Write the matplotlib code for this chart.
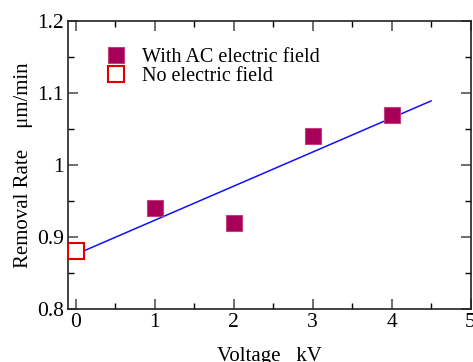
import matplotlib
matplotlib.use("Agg")
import matplotlib.pyplot as plt
from matplotlib.ticker import MultipleLocator, FixedLocator

plt.rcParams['font.family'] = ['Liberation Serif', 'DejaVu Serif']

ac_voltage = [1, 2, 3, 4]
ac_rate = [0.94, 0.92, 1.04, 1.07]
no_voltage = [0]
no_rate = [0.88]
fit_x = [0, 4.5]
fit_y = [0.876, 1.089]

fig = plt.figure(figsize=(4.73, 3.62), dpi=100)
ax = fig.add_axes([0.1438, 0.1464, 0.851, 0.7956])

ax.plot(fit_x, fit_y, color='#1010ff', lw=1.1, zorder=2)
ax.plot(ac_voltage, ac_rate, 's', ms=11, color='#a8005a', mec='#c0407a', mew=0.8, ls='none',
        label='With AC electric field', zorder=3)
ax.plot(no_voltage, no_rate, 's', ms=11, mfc='white', mec='#dd0000', mew=1.5, ls='none',
        label='No electric field', zorder=3)

ax.set_xlim(-0.1, 5)
ax.set_ylim(0.8, 1.2)
ax.xaxis.set_major_locator(MultipleLocator(1))
ax.xaxis.set_minor_locator(MultipleLocator(0.5))
ax.yaxis.set_major_locator(FixedLocator([0.8, 0.9, 1.0, 1.1, 1.2]))
ax.yaxis.set_minor_locator(MultipleLocator(0.05))
ax.set_yticklabels(['0.8', '0.9', '1', '1.1', '1.2'])

ax.tick_params(which='both', direction='in', top=True, right=True, labelsize=15.5, pad=3)
ax.tick_params(which='major', length=7, width=1.2, color='#555555')
ax.tick_params(which='minor', length=4, width=1.0)
for s in ax.spines.values():
    s.set_linewidth(1.2)
    s.set_color('#222222')

ax.set_xlabel('Voltage   kV', fontsize=15, labelpad=11)
ax.set_ylabel('Removal Rate    μm/min', fontsize=15, labelpad=3)

leg = ax.legend(loc='upper left', bbox_to_anchor=(0.065, 0.95), frameon=False, fontsize=14.5,
                handletextpad=0.75, labelspacing=0.0, borderaxespad=0.2, handlelength=1.0)

fig.savefig('out.png', dpi=100)
